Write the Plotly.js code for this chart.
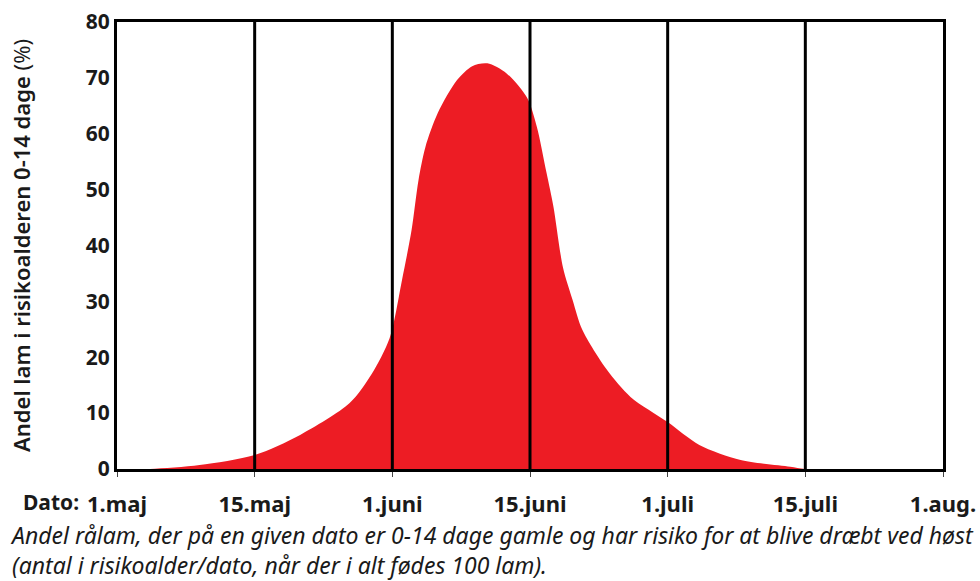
<!DOCTYPE html>
<html>
<head>
<meta charset="utf-8">
<script src="https://cdn.plot.ly/plotly-3.0.1.min.js"></script>
<style>html,body{margin:0;padding:0;background:#fff;}#chart{width:980px;height:581px;}</style>
</head>
<body>
<div id="chart"></div>
<script>
// Date axis: tick positions are equally spaced half-month steps
const tickPos = [0, 1, 2, 3, 4, 5, 6];
const tickLabels = ["1.maj", "15.maj", "1.juni", "15.juni", "1.juli", "15.juli", "1.aug."];

// Curve: position on date axis (half-month units) and share of lambs at risk (%)
const datePos = [0, 0.24, 0.6, 1.0, 1.33, 1.69, 1.85, 1.98, 2.07, 2.14, 2.19, 2.24, 2.33, 2.47, 2.58, 2.69, 2.83, 2.98, 3.05, 3.12, 3.17, 3.24, 3.31, 3.38, 3.56, 3.73, 4.0, 4.23, 4.53, 4.89, 5.0, 6];
const shareAtRisk = [0, 0, 0.7, 2.5, 6.1, 11.8, 17, 23.4, 33.8, 42.8, 51.7, 57.6, 63.7, 69.6, 72.1, 72.6, 70.8, 66.4, 61.2, 53, 47, 36, 30.2, 24.9, 17.7, 12.9, 8.4, 4.3, 1.6, 0.4, 0, 0];

const yTitle = "Andel lam i risikoalderen 0-14 dage <span style='font-weight:400'>(%)</span>";
const xPrefix = "<b>Dato:</b>";
const caption = "<i>Andel rålam, der på en given dato er 0-14 dage gamle og har risiko for at blive dræbt ved høst</i><br><i>(antal i risikoalder/dato, når der i alt fødes 100 lam).</i>";

const FONT = "Noto Sans, Open Sans, DejaVu Sans, sans-serif";
const TXT = "#1a1a1a";

const trace = {
  x: datePos,
  y: shareAtRisk,
  type: "scatter",
  mode: "lines",
  fill: "tozeroy",
  fillcolor: "#ED1C24",
  line: {color: "#ED1C24", width: 0, shape: "spline", smoothing: 0.8},
  hoverinfo: "skip"
};

const W = 980, H = 581;
const ml = 117, mr = 37, mt = 22, mb = 112;
const pw = W - ml - mr, ph = H - mt - mb;
const px = v => (v - ml) / pw;
const py = v => (H - mb - v) / ph;

const shapes = tickPos.slice(1, -1).map(v => ({
  type: "line", xref: "x", yref: "paper", x0: v, x1: v, y0: 0, y1: 1,
  line: {color: "#000", width: 3}, layer: "above"
}));

const layout = {
  width: W, height: H,
  margin: {l: ml, r: mr, t: mt, b: mb},
  paper_bgcolor: "#fff", plot_bgcolor: "#fff",
  showlegend: false,
  font: {family: FONT, color: TXT},
  xaxis: {
    range: [0, 6],
    tickvals: tickPos,
    ticktext: tickLabels.map(t => "<b>" + t + "</b>"),
    tickfont: {size: 22, family: FONT, color: TXT},
    ticks: "outside", ticklen: 5, tickwidth: 1, tickcolor: "#444",
    ticklabelstandoff: 9,
    showgrid: false, zeroline: false,
    showline: true, linecolor: "#000", linewidth: 3, mirror: true,
    fixedrange: true
  },
  yaxis: {
    range: [0, 80], dtick: 10,
    tickfont: {size: 21, family: FONT, color: TXT},
    tickprefix: "<b>", ticksuffix: "</b>",
    ticks: "", showgrid: false, zeroline: false,
    showline: true, linecolor: "#000", linewidth: 3, mirror: true,
    title: {text: yTitle, font: {size: 22, family: FONT, color: TXT, weight: 600}, standoff: 50},
    fixedrange: true
  },
  shapes: shapes,
  annotations: [
    {xref: "paper", yref: "paper", x: px(21), y: py(502), xanchor: "left", yanchor: "middle",
     text: xPrefix, showarrow: false, font: {size: 21, family: FONT, color: TXT}},
    {xref: "paper", yref: "paper", x: px(8), y: py(550), xanchor: "left", yanchor: "middle",
     align: "left", text: caption, showarrow: false, font: {size: 23, family: FONT, color: TXT}}
  ]
};

Plotly.newPlot("chart", [trace], layout, {displayModeBar: false, staticPlot: true});
</script>
</body>
</html>
